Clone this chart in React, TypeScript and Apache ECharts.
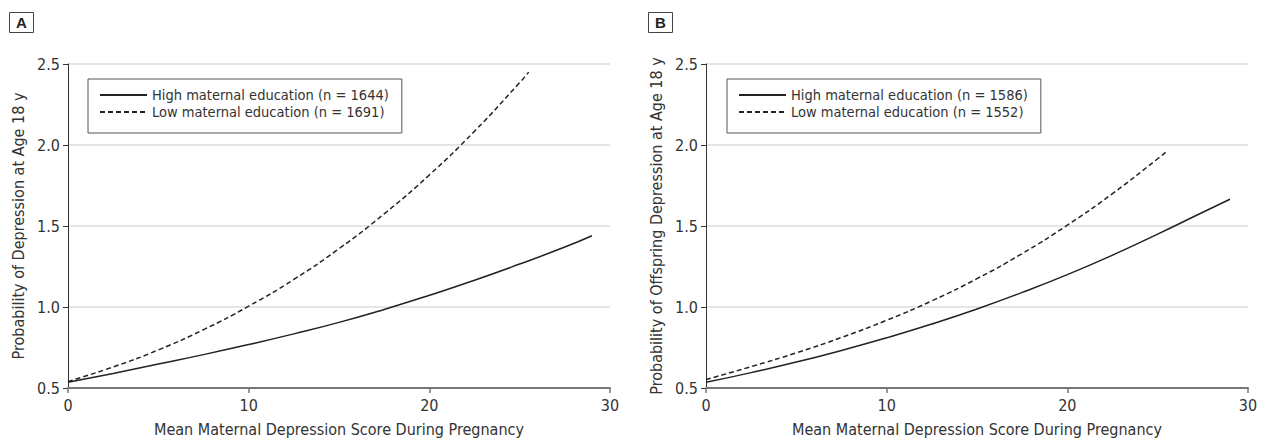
import React, { useEffect, useRef } from "react";
import * as echarts from "echarts";

const xTicks = [0, 10, 20, 30];
const yTicks = [0.5, 1.0, 1.5, 2.0, 2.5];

const xA_high = [0, 2.5, 5, 7.5, 10, 12.5, 15, 17.5, 20, 22.5, 25, 27.5, 29];
const yA_high = [0.535, 0.59, 0.648, 0.706, 0.768, 0.834, 0.905, 0.985, 1.072, 1.165, 1.265, 1.37, 1.44];
const xA_low = [0, 2.5, 5, 7.5, 10, 12.5, 15, 17.5, 20, 22.5, 25, 25.5];
const yA_low = [0.54, 0.63, 0.735, 0.86, 1.005, 1.17, 1.36, 1.575, 1.815, 2.085, 2.385, 2.45];

const xB_high = [0, 2.5, 5, 7.5, 10, 12.5, 15, 17.5, 20, 22.5, 25, 27.5, 29];
const yB_high = [0.535, 0.595, 0.66, 0.732, 0.81, 0.895, 0.988, 1.09, 1.2, 1.32, 1.45, 1.585, 1.665];
const xB_low = [0, 2.5, 5, 7.5, 10, 12.5, 15, 17.5, 20, 22.5, 25, 25.5];
const yB_low = [0.552, 0.632, 0.717, 0.812, 0.918, 1.038, 1.175, 1.33, 1.505, 1.7, 1.915, 1.96];

const namesA = ["High maternal education (n = 1644)", "Low maternal education (n = 1691)"];
const namesB = ["High maternal education (n = 1586)", "Low maternal education (n = 1552)"];
const yTitleA = "Probability of Depression at Age 18 y";
const yTitleB = "Probability of Offspring Depression at Age 18 y";
const xTitle = "Mean Maternal Depression Score During Pregnancy";
const panelLabels = ["A", "B"];

const FONT = "'Liberation Sans Narrow', 'DejaVu Sans Condensed', 'Roboto', sans-serif";
const TXT = "#333";

function pairs(xs: number[], ys: number[]) {
  return xs.map((x, i) => [x, ys[i]]);
}

export default function App() {
  const ref = useRef<HTMLDivElement>(null);
  useEffect(() => {
    if (!ref.current) return;
    const chart = echarts.init(ref.current, undefined, { renderer: "svg" });

    const xAxisBase = (gridIndex: number) => ({
      type: "value",
      gridIndex,
      min: xTicks[0],
      max: xTicks[xTicks.length - 1],
      interval: 10,
      name: xTitle,
      nameLocation: "middle",
      nameGap: 33,
      nameTextStyle: { fontFamily: FONT, fontSize: 16, color: TXT },
      axisLine: { show: true, onZero: false, lineStyle: { color: "#777", width: 2 } },
      axisTick: { show: true, inside: false, length: 5, lineStyle: { color: "#777", width: 1.5 } },
      axisLabel: { fontFamily: FONT, fontSize: 16, color: TXT, margin: 9 },
      splitLine: { show: false },
    });
    const yAxisBase = (gridIndex: number, name: string) => ({
      type: "value",
      gridIndex,
      min: yTicks[0],
      max: yTicks[yTicks.length - 1],
      interval: 0.5,
      name,
      nameLocation: "middle",
      nameGap: 42,
      nameTextStyle: { fontFamily: FONT, fontSize: 16, color: TXT },
      axisLine: { show: true, onZero: false, lineStyle: { color: "#333", width: 1 } },
      axisTick: { show: true, inside: false, length: 5, lineStyle: { color: "#333", width: 1 } },
      axisLabel: {
        fontFamily: FONT,
        fontSize: 16,
        color: TXT,
        margin: 8,
        formatter: (v: number) => v.toFixed(1),
      },
      splitLine: { show: true, lineStyle: { color: "#dcdcdc", width: 1.5 } },
    });

    const legendBase = (left: number, data: string[]) => ({
      left,
      top: 79,
      orient: "vertical",
      data,
      borderColor: "#555",
      borderWidth: 1,
      padding: [7.5, 13, 12.5, 11],
      itemWidth: 47,
      itemHeight: 14,
      itemGap: 0,
      itemStyle: { opacity: 0 },
      textStyle: { fontFamily: FONT, fontSize: 14.5, color: TXT, lineHeight: 17 },
      selectedMode: false,
    });

    const lineSeries = (name: string, xi: number, data: number[][], dashed: boolean) => ({
      type: "line",
      name,
      xAxisIndex: xi,
      yAxisIndex: xi,
      data,
      smooth: true,
      symbol: "none",
      showSymbol: false,
      lineStyle: { color: "#222", width: 1.5, type: dashed ? [5, 3] : "solid" },
      itemStyle: { color: "#222" },
    });

    chart.setOption({
      animation: false,
      title: panelLabels.map((t, i) => ({
        text: t,
        left: i === 0 ? 9 : 648,
        top: 12,
        borderColor: "#444",
        borderWidth: 1,
        padding: [3, 7, 3, 7],
        textStyle: { fontFamily: "'Liberation Sans', sans-serif", fontSize: 15, fontWeight: "bold", color: "#222", lineHeight: 15 },
      })),
      legend: [legendBase(88, namesA), legendBase(727, namesB)],
      grid: [
        { left: 68, top: 64, width: 542, height: 327, containLabel: false },
        { left: 706, top: 64, width: 542, height: 327, containLabel: false },
      ],
      xAxis: [xAxisBase(0), xAxisBase(1)],
      yAxis: [yAxisBase(0, yTitleA), yAxisBase(1, yTitleB)],
      series: [
        lineSeries(namesA[0], 0, pairs(xA_high, yA_high), false),
        lineSeries(namesA[1], 0, pairs(xA_low, yA_low), true),
        lineSeries(namesB[0], 1, pairs(xB_high, yB_high), false),
        lineSeries(namesB[1], 1, pairs(xB_low, yB_low), true),
      ],
    });
    return () => chart.dispose();
  }, []);
  return (
    <div
      ref={ref}
      style={{ position: "fixed", left: 0, top: 0, width: 1264, height: 442, background: "#fff" }}
    />
  );
}
